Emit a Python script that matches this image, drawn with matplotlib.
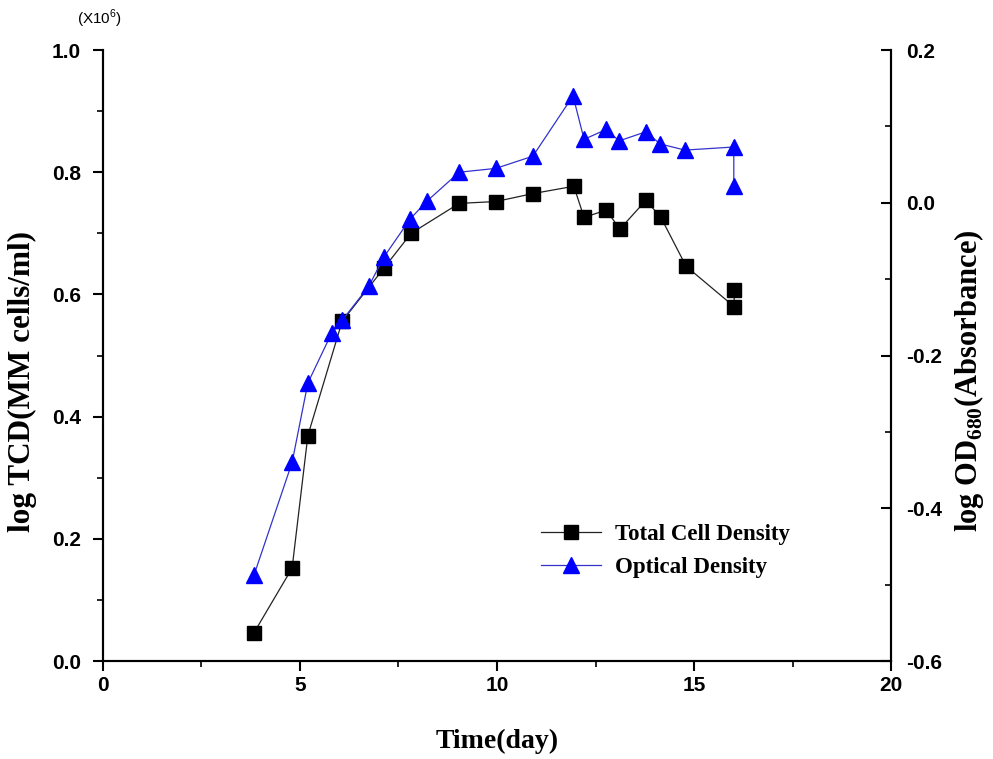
import matplotlib
matplotlib.use("Agg")
import matplotlib.pyplot as plt
from matplotlib.ticker import MultipleLocator

# ------------------ CONFIG ------------------
plt.rcParams.update({
    "mathtext.fontset": "custom",
    "mathtext.rm": "Liberation Serif",
    "mathtext.bf": "Liberation Serif:bold",
    "mathtext.sf": "Liberation Sans",
})

# ------------------ DATA ------------------
tcd_days = [3.83, 4.80, 5.20, 6.07, 7.13, 7.82, 9.04, 9.97, 10.91, 11.95,
            12.21, 12.77, 13.12, 13.78, 14.16, 14.80, 16.02, 16.02]
tcd_values = [0.046, 0.152, 0.369, 0.556, 0.643, 0.700, 0.749, 0.752, 0.765, 0.777,
              0.726, 0.738, 0.707, 0.754, 0.726, 0.646, 0.580, 0.607]

od_days = [3.83, 4.80, 5.20, 5.81, 6.07, 6.75, 7.13, 7.80, 8.22, 9.04, 9.97,
           10.91, 11.93, 12.21, 12.77, 13.10, 13.78, 14.14, 14.77, 16.01, 16.01]
od_values = [-0.488, -0.340, -0.236, -0.170, -0.154, -0.109, -0.071, -0.021, 0.002,
             0.040, 0.045, 0.061, 0.140, 0.083, 0.096, 0.081, 0.093, 0.077, 0.069,
             0.073, 0.022]

# ------------------ PLOT ------------------
serif = "Liberation Serif"
sans = "Liberation Sans"

fig = plt.figure(figsize=(9.93, 7.59), dpi=100)
ax = fig.add_axes([0.1037, 0.1291, 0.7936, 0.805])
ax2 = ax.twinx()

l1, = ax.plot(tcd_days, tcd_values, color="#222222", lw=0.9, marker="s", ms=10,
              mfc="black", mec="black", label="Total Cell Density")
l2, = ax2.plot(od_days, od_values, color="#3333cc", lw=0.9, marker="^", ms=12,
               mfc="#0000ff", mec="#0000ff", label="Optical Density")

ax.set_xlim(0, 20)
ax.set_ylim(0, 1.0)
ax2.set_ylim(-0.6, 0.2)

ax.xaxis.set_major_locator(MultipleLocator(5))
ax.xaxis.set_minor_locator(MultipleLocator(2.5))
ax.yaxis.set_major_locator(MultipleLocator(0.2))
ax.yaxis.set_minor_locator(MultipleLocator(0.1))
ax2.yaxis.set_major_locator(MultipleLocator(0.2))
ax2.yaxis.set_minor_locator(MultipleLocator(0.1))

for a in (ax, ax2):
    a.spines["top"].set_visible(False)
    for s in a.spines.values():
        s.set_linewidth(1.5)

ax.tick_params(axis="both", which="major", direction="out", length=7, width=1.5)
ax.tick_params(axis="both", which="minor", direction="out", length=4, width=1.2)
ax.tick_params(axis="y", which="major", pad=9)
ax2.tick_params(axis="y", which="major", direction="in", length=7, width=1.5, pad=11)
ax2.tick_params(axis="y", which="minor", direction="in", length=4, width=1.2)

ax.set_xticklabels([f"{int(v)}" for v in ax.get_xticks()])
ax.set_yticklabels([f"{v:.1f}" for v in ax.get_yticks()])
ax2.set_yticklabels([f"{v:.1f}" for v in ax2.get_yticks()])
for lab in ax.get_xticklabels() + ax.get_yticklabels() + ax2.get_yticklabels():
    lab.set_fontfamily(sans)
    lab.set_fontweight("bold")
    lab.set_fontsize(15)

ax.set_xlabel("Time(day)", fontfamily=serif, fontweight="bold", fontsize=20)
ax.xaxis.set_label_coords(0.5, -0.111)
ax.set_ylabel("log TCD(MM cells/ml)", fontfamily=serif, fontweight="bold", fontsize=22.5)
ax.yaxis.set_label_coords(-0.084, 0.458)
ax2.set_ylabel(r"log OD$_{\mathbf{680}}$(Absorbance)", fontfamily=serif, fontweight="bold",
               fontsize=22)
ax2.yaxis.set_label_coords(1.077, 0.458)

fig.text(0.078, 0.975, r"(X10$^{\mathsf{6}}$)", fontfamily=sans, fontsize=11, va="center")

ax.legend(handles=[l1, l2], loc="center left", bbox_to_anchor=(0.53, 0.18),
          frameon=False, prop={"family": serif, "weight": "bold", "size": 16.5},
          handlelength=2.6, handletextpad=0.6, labelspacing=0.55)

fig.savefig("out.png", dpi=100)
